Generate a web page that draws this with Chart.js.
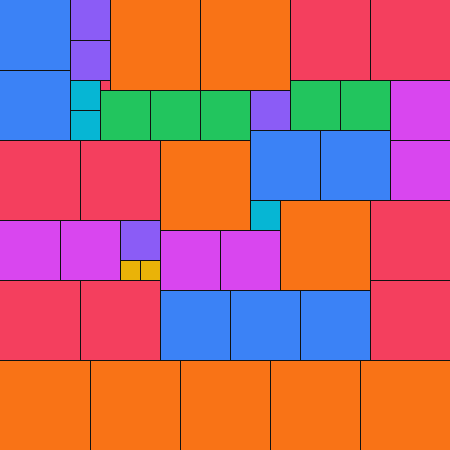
<!DOCTYPE html>
<html>
<head>
<meta charset="utf-8">
<script src="https://cdn.jsdelivr.net/npm/chart.js@4/dist/chart.umd.min.js"></script>
<style>
  html, body { margin: 0; padding: 0; background: #ffffff; }
  #wrap { width: 450px; height: 450px; position: relative; }
</style>
</head>
<body>
<div id="wrap"><canvas id="c"></canvas></div>
<script>
// Partridge tiling of a 45 x 45 square: n squares of side n, n = 1..9
const sideTotal = 45;
const sizes = [9, 8, 7, 6, 5, 4, 3, 2, 1];
const sizeColors = ['#f97316', '#f43f5e', '#3b82f6', '#d946ef', '#22c55e', '#8b5cf6', '#06b6d4', '#eab308', '#f43f5e'];
// top-left corner of each square (grid units), grouped by size
const cornersX = {
  9: [11, 20, 16, 28, 0, 9, 18, 27, 36],
  8: [29, 37, 0, 8, 37, 0, 8, 37],
  7: [0, 0, 25, 32, 16, 23, 30],
  6: [39, 39, 0, 6, 16, 22],
  5: [10, 15, 20, 29, 34],
  4: [7, 7, 25, 12],
  3: [7, 7, 25],
  2: [12, 14],
  1: [10]
};
const cornersY = {
  9: [0, 0, 14, 20, 36, 36, 36, 36, 36],
  8: [0, 0, 14, 14, 20, 28, 28, 28],
  7: [0, 7, 13, 13, 29, 29, 29],
  6: [8, 14, 22, 22, 23, 23],
  5: [9, 9, 9, 8, 8],
  4: [0, 4, 9, 22],
  3: [8, 11, 20],
  2: [26, 26],
  1: [8]
};
const lineColor = '#111111';

const datasets = sizes.map((s, i) => ({
  label: s + '×' + s,
  stack: 'all',
  data: cornersX[s].map((x0, k) => ({ x: x0 + s / 2, y: [cornersY[s][k], cornersY[s][k] + s], x0: x0, y0: cornersY[s][k] })),
  backgroundColor: sizeColors[i],
  borderColor: lineColor,
  borderSkipped: false,
  inflateAmount: 0,
  borderWidth: (ctx) => {
    const r = ctx.raw || {};
    return { left: r.x0 > 0 ? 1 : 0, top: r.y0 > 0 ? 1 : 0, right: 0, bottom: 0 };
  },
  barThickness: (ctx) => {
    const sc = ctx.chart.scales && ctx.chart.scales.x;
    if (!sc) return 1;
    return Math.abs(sc.getPixelForValue(s) - sc.getPixelForValue(0));
  }
}));

new Chart(document.getElementById('c'), {
  type: 'bar',
  data: { datasets },
  options: {
    responsive: true,
    maintainAspectRatio: false,
    animation: false,
    devicePixelRatio: 1,
    layout: { padding: 0 },
    plugins: { legend: { display: false }, tooltip: { enabled: false } },
    events: [],
    scales: {
      x: { type: 'linear', min: 0, max: sideTotal, offset: false, display: false, stacked: undefined },
      y: { type: 'linear', min: 0, max: sideTotal, reverse: true, display: false, stacked: false, beginAtZero: true }
    }
  }
});
</script>
</body>
</html>
